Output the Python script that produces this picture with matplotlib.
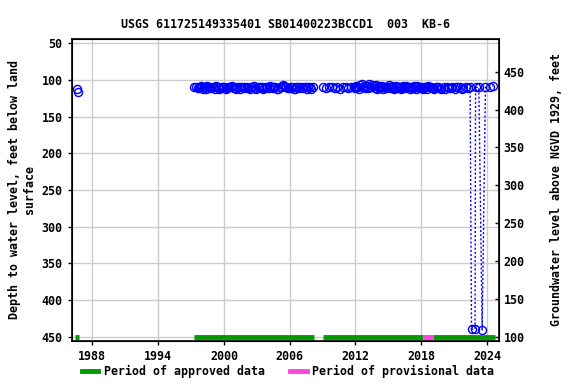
import matplotlib
matplotlib.use("Agg")
import matplotlib.pyplot as plt
from matplotlib.lines import Line2D

# ---- data ----
early_dates = [1986.62, 1986.66]
early_depth = [112, 117]

dates_a = [1997.25, 1997.45, 1997.7, 1997.95, 1998.2, 1998.4, 1998.6, 1998.85, 1999.1, 1999.3,
           1999.55, 1999.8, 2000.0, 2000.25, 2000.5, 2000.75, 2001.0, 2001.2, 2001.45, 2001.7,
           2001.95, 2002.2, 2002.45, 2002.7, 2002.95, 2003.2, 2003.45, 2003.7, 2003.95, 2004.2,
           2004.45, 2004.7, 2004.95, 2005.2, 2005.45, 2005.7, 2005.95, 2006.2, 2006.45, 2006.7,
           2006.95, 2007.2, 2007.45, 2007.7, 2007.95, 2008.15]
depth_a = [110, 109, 111, 108, 110, 112, 109, 111, 110, 108,
           112, 110, 109, 111, 110, 108, 111, 109, 112, 110,
           109, 111, 110, 108, 112, 110, 109, 111, 110, 108,
           111, 109, 112, 110, 108, 109, 111, 110, 112, 109,
           110, 111, 109, 110, 112, 110]

dates_a2 = [1997.6, 1997.85, 1998.1, 1998.3, 1998.5, 1998.75, 1999.0, 1999.2, 1999.45, 1999.7,
            1999.9, 2000.15, 2000.4, 2000.65, 2000.9, 2001.1, 2001.35, 2001.6, 2001.85, 2002.1,
            2002.35, 2002.6, 2002.85, 2003.1, 2003.35, 2003.6, 2003.85, 2004.1, 2004.35, 2004.6,
            2004.85, 2005.1, 2005.35, 2005.6, 2005.85, 2006.1, 2006.35, 2006.6, 2006.85, 2007.1,
            2007.35, 2007.6, 2007.85]
depth_a2 = [111, 109, 112, 110, 108, 111, 110, 112, 109, 111,
            110, 112, 109, 110, 111, 112, 110, 109, 111, 110,
            112, 109, 111, 110, 109, 112, 110, 111, 109, 110,
            112, 109, 107, 110, 111, 109, 112, 110, 111, 109,
            110, 112, 109]

dates_b = [2009.05, 2009.3, 2009.6, 2009.85, 2010.1, 2010.35, 2010.6, 2010.85, 2011.1, 2011.35,
           2011.6, 2011.85, 2012.05, 2012.25, 2012.45, 2012.65, 2012.85, 2013.05, 2013.25, 2013.45,
           2013.65, 2013.85, 2014.05, 2014.25, 2014.45, 2014.65, 2014.85, 2015.05, 2015.25, 2015.45,
           2015.65, 2015.85, 2016.05, 2016.25, 2016.45, 2016.65, 2016.85, 2017.05, 2017.25, 2017.45,
           2017.65, 2017.85, 2018.05, 2018.25, 2018.45, 2018.65, 2018.85, 2019.05, 2019.3, 2019.55,
           2019.8, 2020.05, 2020.3, 2020.55, 2020.8, 2021.05, 2021.3, 2021.55, 2021.8, 2022.05,
           2022.3]
depth_b = [110, 111, 110, 109, 111, 110, 112, 110, 109, 111,
           110, 109, 108, 110, 107, 109, 111, 108, 106, 110,
           108, 107, 109, 111, 108, 110, 109, 107, 110, 111,
           108, 110, 109, 111, 110, 108, 110, 109, 111, 110,
           108, 110, 111, 109, 110, 108, 110, 111, 109, 110,
           112, 110, 109, 111, 110, 112, 109, 110, 111, 110,
           111]

dates_b2 = [2011.95, 2012.15, 2012.35, 2012.55, 2012.75, 2012.95, 2013.15, 2013.35, 2013.55, 2013.75,
            2013.95, 2014.15, 2014.35, 2014.55, 2014.75, 2014.95, 2015.15, 2015.35, 2015.55, 2015.75,
            2015.95, 2016.15, 2016.35, 2016.55, 2016.75, 2016.95, 2017.15, 2017.35, 2017.55, 2017.75,
            2017.95, 2018.15, 2018.35, 2018.55, 2018.75, 2018.95, 2019.2, 2019.45, 2019.7, 2020.2,
            2020.7, 2021.2, 2021.7]
depth_b2 = [111, 109, 112, 106, 110, 108, 111, 109, 107, 111,
            112, 108, 110, 112, 111, 109, 111, 108, 112, 111,
            110, 112, 108, 111, 109, 112, 111, 108, 112, 111,
            109, 112, 110, 112, 109, 111, 112, 110, 111, 112,
            111, 110, 112]

dates_c = [2022.45, 2022.58, 2022.9, 2022.95, 2023.25, 2023.55, 2023.85, 2024.3, 2024.55]
depth_c = [110, 440, 440, 110, 110, 441, 110, 110, 108]

approved = [(1986.45, 1986.75), (1997.25, 2008.2), (2009.0, 2018.2), (2019.05, 2024.75)]
provisional = [(2018.2, 2019.05)]

title = "USGS 611725149335401 SB01400223BCCD1  003  KB-6"
xticks = [1988, 1994, 2000, 2006, 2012, 2018, 2024]
yticks = [50, 100, 150, 200, 250, 300, 350, 400, 450]
rticks = [100, 150, 200, 250, 300, 350, 400, 450]

# ---- plotting ----
plt.rcParams['font.family'] = ['DejaVu Sans Mono']
plt.rcParams['font.weight'] = 'bold'
fs = 8.4

fig = plt.figure(figsize=(5.76, 3.84), dpi=100)
ax = fig.add_axes([0.1245, 0.1128, 0.866 - 0.1245, 0.8977 - 0.1128])

blue = '#0000ff'
green = '#009900'
pink = '#ff44dd'

ax.grid(True, color='#cccccc', linewidth=1)
ax.set_axisbelow(True)

mk = dict(marker='o', markersize=5.8, markerfacecolor='none', markeredgecolor=blue,
          markeredgewidth=1, linestyle='none')
ax.plot(early_dates, early_depth, **mk)
ax.plot(dates_a, depth_a, **mk)
ax.plot(dates_a2, depth_a2, **mk)
ax.plot(dates_b, depth_b, **mk)
ax.plot(dates_b2, depth_b2, **mk)
ax.plot(dates_c, depth_c, color=blue, linestyle=(0, (1.5, 1.5)), linewidth=1,
        marker='o', markersize=5.8, markerfacecolor='none', markeredgecolor=blue,
        markeredgewidth=1)

bar_y = 450
for s, e in approved:
    ax.plot([s, e], [bar_y, bar_y], color=green, linewidth=3.5, solid_capstyle='butt')
for s, e in provisional:
    ax.plot([s, e], [bar_y, bar_y], color=pink, linewidth=3.5, solid_capstyle='butt')

ax.set_xlim(1986.12, 2025.07)
ax.set_ylim(455.6, 44.5)
ax.set_xticks(xticks)
ax.set_yticks(yticks)
ax.tick_params(axis='both', labelsize=fs, length=3, width=1)
for lab in ax.get_xticklabels() + ax.get_yticklabels():
    lab.set_fontweight('bold')
for sp in ax.spines.values():
    sp.set_linewidth(1.2)

ax.set_ylabel("Depth to water level, feet below land\nsurface", fontsize=fs, fontweight='bold',
              labelpad=4)
ax.set_title(title, fontsize=fs, fontweight='bold', pad=8)

ax2 = ax.twinx()
ax2.set_ylim(94.7, 492.8)
ax2.set_yticks(rticks)
ax2.tick_params(axis='y', labelsize=fs, length=3, width=1, direction='in')
for lab in ax2.get_yticklabels():
    lab.set_fontweight('bold')
ax2.set_ylabel("Groundwater level above NGVD 1929, feet", fontsize=fs, fontweight='bold',
               labelpad=18)

handles = [Line2D([], [], color=green, linewidth=3.5),
           Line2D([], [], color=pink, linewidth=3.5)]
fig.legend(handles, ["Period of approved data", "Period of provisional data"],
           loc='center', bbox_to_anchor=(0.5, 0.032), ncol=2, frameon=False,
           handlelength=1.4, handletextpad=0.5, columnspacing=2.2,
           prop={'weight': 'bold', 'size': fs})

fig.savefig("out.png", dpi=100)
